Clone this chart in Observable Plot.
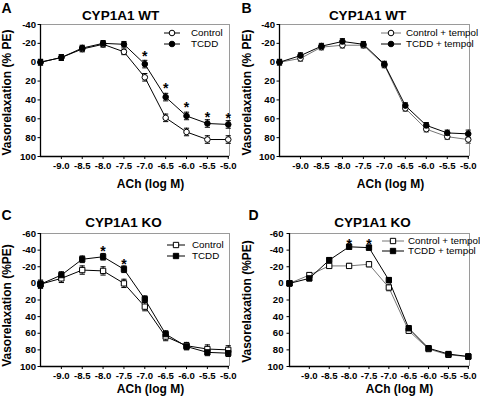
<!DOCTYPE html>
<html><head><meta charset="utf-8">
<script src="https://cdn.jsdelivr.net/npm/d3@7"></script>
<script src="https://cdn.jsdelivr.net/npm/@observablehq/plot@0.6"></script>
<style>
body{margin:0;background:#fff;}
#fig{position:relative;width:480px;height:402px;overflow:hidden;background:#fff;}
.panel{position:absolute;}
</style></head><body><div id="fig"></div>
<script>
// ---- data ----
const doses = [-9.5, -9.0, -8.5, -8.0, -7.5, -7.0, -6.5, -6.0, -5.5, -5.0];
const xTicks = [-9.0, -8.5, -8.0, -7.5, -7.0, -6.5, -6.0, -5.5, -5.0];
const xDomain = [-9.5, -4.97];
const yTicksWT = [-40, -20, 0, 20, 40, 60, 80, 100];
const yTicksKO = [-60, -40, -20, 0, 20, 40, 60, 80, 100];

// Panel A: CYP1A1 WT
const A_control    = [0, -5, -14, -19, -11, 16, 59, 74, 82, 82];
const A_controlErr = [3, 3, 3, 3, 3, 4, 4, 4, 4, 4];
const A_tcdd       = [0, -5, -15, -20, -19, 2, 37, 57, 65, 66];
const A_tcddErr    = [3, 3, 3, 3, 3, 4, 4, 4, 4, 4];
const A_starX = [-7.0, -6.5, -6.0, -5.5, -5.0];
const A_starY = [-10, 24, 44, 54, 56];

// Panel B: CYP1A1 WT + tempol
const B_control    = [0, -4, -16, -18, -18, 3, 49, 71, 79, 82];
const B_controlErr = [3, 3, 3, 3, 3, 3, 3, 3, 3, 4];
const B_tcdd       = [0, -7, -17, -22, -19, 2, 46, 67, 75, 76];
const B_tcddErr    = [3, 3, 3, 3, 3, 3, 3, 3, 3, 4];
const B_starX = [];
const B_starY = [];

// Panel C: CYP1A1 KO
const C_control    = [1, -6, -16, -15, 0, 28, 64, 75, 79, 80];
const C_controlErr = [5, 5, 5, 5, 5, 5, 5, 4, 5, 5];
const C_tcdd       = [1, -10, -29, -32, -17, 19, 61, 76, 83, 84];
const C_tcddErr    = [4, 4, 4, 4, 4, 4, 4, 4, 4, 4];
const C_starX = [-8.0, -7.5];
const C_starY = [-43, -28];

// Panel D: CYP1A1 KO + tempol
const D_control    = [0, -10, -21, -21, -23, 5, 57, 79, 86, 88];
const D_controlErr = [3, 3, 3, 3, 3, 4, 3, 3, 3, 3];
const D_tcdd       = [0, -6, -28, -44, -43, -4, 54, 78, 85, 88];
const D_tcddErr    = [3, 3, 3, 3, 3, 3, 3, 3, 3, 3];
const D_starX = [-8.0, -7.5];
const D_starY = [-52, -52];

// ---- drawing ----
const FONT = "'Liberation Sans', Arial, Helvetica, sans-serif";
const capSymbol = {draw(ctx) { ctx.moveTo(-2.6, 0); ctx.lineTo(2.6, 0); }};

function rows(vals, errs) {
  return doses.map((d, i) => ({x: d, y: vals[i], lo: vals[i] - errs[i], hi: vals[i] + errs[i]}));
}

function panel(c) {
  const ctrl = rows(c.control, c.controlErr);
  const tc = rows(c.tcdd, c.tcddErr);
  const stars = c.starX.map((x, i) => ({x, y: c.starY[i]}));
  const pcx = (c.mL + (c.w - c.mR)) / 2;
  const pcy = (c.mT + (c.h - c.mB)) / 2;
  const centered = {textAnchor: "middle", lineAnchor: "middle", fontWeight: "bold"};
  const errMarks = (data, color) => [
    Plot.ruleX(data, {x: "x", y1: "lo", y2: "hi", stroke: color, strokeWidth: 1}),
    Plot.dot(data, {x: "x", y: "lo", symbol: capSymbol, stroke: color, fill: "none", strokeWidth: 1}),
    Plot.dot(data, {x: "x", y: "hi", symbol: capSymbol, stroke: color, fill: "none", strokeWidth: 1})
  ];
  const svg = Plot.plot({
    width: c.w, height: c.h,
    marginLeft: c.mL, marginRight: c.mR, marginTop: c.mT, marginBottom: c.mB,
    style: {fontFamily: FONT, fontSize: "9.6px", fontWeight: "bold", color: "#000", background: "transparent", overflow: "visible"},
    x: {domain: xDomain},
    y: {domain: c.yDomain, reverse: true},
    marks: [
      Plot.ruleY([c.yDomain[0]], {stroke: "#9a9a9a", strokeWidth: 1}),
      Plot.ruleX([xDomain[1]], {stroke: "#9a9a9a", strokeWidth: 1}),
      Plot.axisX({ticks: xTicks, tickFormat: d => d.toFixed(1), tickSize: 3, tickPadding: 3, label: null}),
      Plot.axisY({ticks: c.yTicks, tickFormat: d => String(d), tickSize: 2.5, tickPadding: c.yPad, label: null}),
      Plot.ruleX([xDomain[0]], {stroke: "#000", strokeWidth: 1.3}),
      Plot.ruleY([c.yDomain[1]], {stroke: "#000", strokeWidth: 1.3}),
      Plot.line(ctrl, {x: "x", y: "y", stroke: c.ctrlColor, strokeWidth: 1}),
      Plot.line(tc, {x: "x", y: "y", stroke: "#000", strokeWidth: 1}),
      ...errMarks(ctrl, c.ctrlErrColor),
      ...errMarks(tc, "#000"),
      Plot.dot(ctrl, {x: "x", y: "y", symbol: c.symbol, r: c.r, fill: "#fff", stroke: "#000", strokeWidth: 1}),
      Plot.dot(tc, {x: "x", y: "y", symbol: c.symbol, r: c.r, fill: "#000", stroke: "#000", strokeWidth: 1}),
      Plot.text(stars, {x: "x", y: "y", text: () => "*", fontSize: 14, fontWeight: "bold", dy: 4}),
      Plot.text([c.title], {...centered, text: d => d, frameAnchor: "top", dx: c.titleX - pcx, dy: c.titleDy, fontSize: 13.5}),
      Plot.text([c.letter], {...centered, text: d => d, frameAnchor: "top-left", dx: c.letterX - c.mL, dy: c.letterY - c.mT, fontSize: 14}),
      Plot.text(["ACh (log M)"], {...centered, text: d => d, frameAnchor: "bottom", dx: c.xlabX - pcx, dy: c.xlabY - (c.h - c.mB), fontSize: 12}),
      Plot.text([c.ylabel], {...centered, text: d => d, frameAnchor: "left", rotate: -90, dx: 7 - c.mL, dy: c.ylabY - pcy, fontSize: 12})
    ]
  });
  // legend (layout only)
  const g = d3.select(svg).append("g").attr("font-family", FONT).attr("font-size", "9.8px").attr("font-weight", "normal");
  const sym = c.symbol === "circle" ? d3.symbolCircle : d3.symbolSquare;
  c.legendLabels.forEach((label, i) => {
    const y = c.legY[i];
    const col = i === 0 ? c.ctrlColor : "#000";
    g.append("line").attr("x1", c.legX1).attr("x2", c.legX2).attr("y1", y).attr("y2", y).attr("stroke", col).attr("stroke-width", 1);
    g.append("path").attr("d", d3.symbol(sym, Math.PI * c.r * c.r)())
      .attr("transform", `translate(${(c.legX1 + c.legX2) / 2},${y})`)
      .attr("fill", i === 0 ? "#fff" : "#000").attr("stroke", "#000");
    g.append("text").attr("x", c.legTextX).attr("y", y).attr("dy", "0.35em")
      .attr("text-anchor", "start").attr("fill", "#000").text(label);
  });
  return svg;
}

const panels = [
  {left: 0, top: 0, w: 240, h: 200, mL: 40, mR: 11, mT: 24, mB: 44,
   yDomain: [-40, 100], yTicks: yTicksWT, yPad: 2,
   control: A_control, controlErr: A_controlErr, tcdd: A_tcdd, tcddErr: A_tcddErr,
   starX: A_starX, starY: A_starY, symbol: "circle", r: 2.8, ctrlColor: "#000", ctrlErrColor: "#000",
   title: "CYP1A1 WT", titleX: 120, titleDy: -9, letter: "A", letterX: 6, letterY: 8,
   xlabX: 150, xlabY: 184, ylabel: "Vasorelaxation (% PE)", ylabY: 92,
   legendLabels: ["Control", "TCDD"], legY: [33, 44], legX1: 164, legX2: 180, legTextX: 191},
  {left: 240, top: 0, w: 240, h: 200, mL: 39, mR: 11, mT: 24, mB: 44,
   yDomain: [-40, 100], yTicks: yTicksWT, yPad: 2,
   control: B_control, controlErr: B_controlErr, tcdd: B_tcdd, tcddErr: B_tcddErr,
   starX: B_starX, starY: B_starY, symbol: "circle", r: 2.8, ctrlColor: "#777", ctrlErrColor: "#555",
   title: "CYP1A1 WT", titleX: 127, titleDy: -9, letter: "B", letterX: 6, letterY: 8,
   xlabX: 150, xlabY: 184, ylabel: "Vasorelaxation (% PE)", ylabY: 92,
   legendLabels: ["Control + tempol", "TCDD + tempol"], legY: [33, 44], legX1: 141, legX2: 161, legTextX: 166},
  {left: 0, top: 200, w: 240, h: 202, mL: 40, mR: 11, mT: 33, mB: 36,
   yDomain: [-60, 100], yTicks: yTicksKO, yPad: 2,
   control: C_control, controlErr: C_controlErr, tcdd: C_tcdd, tcddErr: C_tcddErr,
   starX: C_starX, starY: C_starY, symbol: "square", r: 3, ctrlColor: "#000", ctrlErrColor: "#000",
   title: "CYP1A1 KO", titleX: 123, titleDy: -10.5, letter: "C", letterX: 6, letterY: 15,
   xlabX: 150, xlabY: 189, ylabel: "Vasorelaxation (%PE)", ylabY: 105,
   legendLabels: ["Control", "TCDD"], legY: [45, 56], legX1: 167, legX2: 185, legTextX: 192},
  {left: 240, top: 200, w: 240, h: 202, mL: 49, mR: 11, mT: 33, mB: 36,
   yDomain: [-60, 100], yTicks: yTicksKO, yPad: 3.5,
   control: D_control, controlErr: D_controlErr, tcdd: D_tcdd, tcddErr: D_tcddErr,
   starX: D_starX, starY: D_starY, symbol: "square", r: 3, ctrlColor: "#777", ctrlErrColor: "#555",
   title: "CYP1A1 KO", titleX: 132, titleDy: -10.5, letter: "D", letterX: 13, letterY: 15,
   xlabX: 159, xlabY: 189, ylabel: "Vasorelaxation (%PE)", ylabY: 101,
   legendLabels: ["Control + tempol", "TCDD + tempol"], legY: [41, 51], legX1: 142, legX2: 164, legTextX: 168}
];

const fig = document.getElementById("fig");
for (const p of panels) {
  const div = document.createElement("div");
  div.className = "panel";
  div.style.left = p.left + "px";
  div.style.top = p.top + "px";
  div.appendChild(panel(p));
  fig.appendChild(div);
}
</script></body></html>
